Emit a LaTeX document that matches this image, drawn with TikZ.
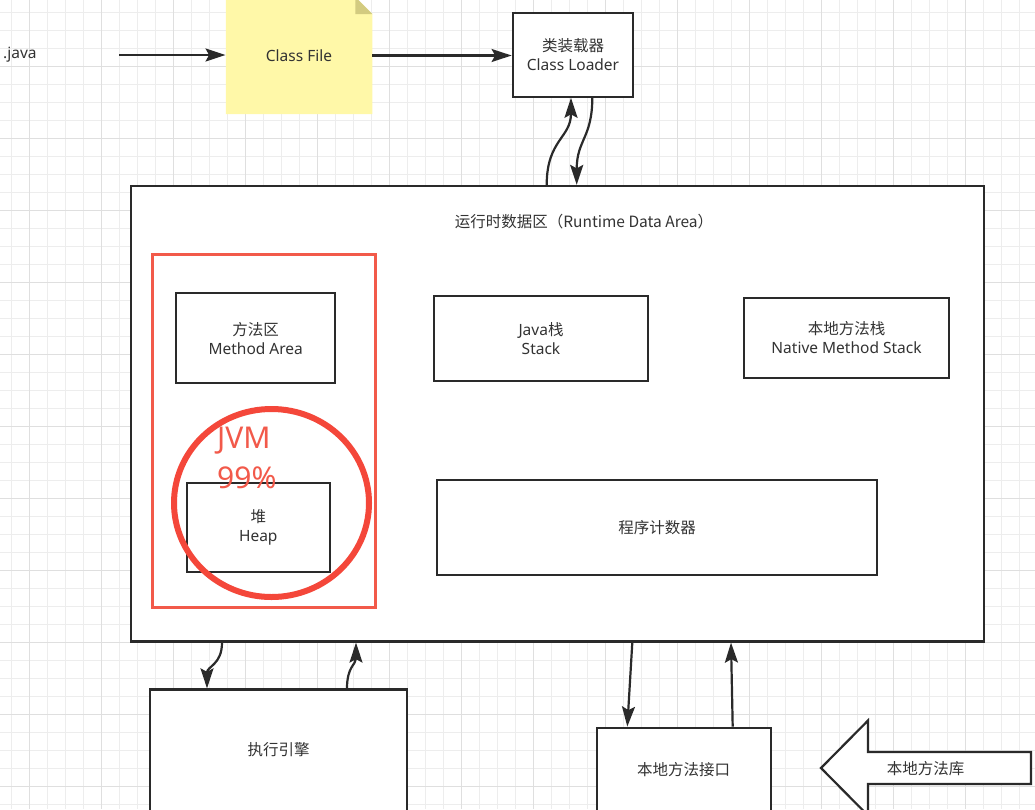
\documentclass[tikz,border=0pt]{standalone}
\usepackage{fontspec}
\setmainfont{Noto Sans}
\newfontfamily\cjk{Noto Sans CJK SC}
\usetikzlibrary{arrows.meta,shapes.geometric}
\definecolor{gridminor}{HTML}{EDEDED}
\definecolor{gridmajor}{HTML}{DFDFDF}
\definecolor{ink}{HTML}{333333}
\definecolor{boxline}{HTML}{2A2A2A}
\definecolor{notey}{HTML}{FFF8A8}
\definecolor{notefold}{HTML}{D3CB80}
\definecolor{redline}{HTML}{F25A4A}
\definecolor{redring}{HTML}{F4473A}
\definecolor{redtext}{HTML}{F2594A}
\begin{document}
\begin{tikzpicture}[x=1pt,y=-1pt,
  every node/.style={text=ink, font=\fontsize{15.5}{19}\selectfont},
  box/.style={draw=boxline, line width=2.2pt, fill=white, inner sep=0pt, align=center},
  conn/.style={draw=boxline, line width=2.2pt, -{Stealth[length=20pt,width=13pt,inset=3.5pt]}},
  gmin/.style={draw=gridminor, line width=1pt},
  gmaj/.style={draw=gridmajor, line width=1pt},
  jvmtext/.style={anchor=base west, inner sep=0pt, text=redtext, font=\fontsize{30}{32}\selectfont},
]
\useasboundingbox (0,0) rectangle (1035,809);
\clip (0,0) rectangle (1035,809);
\fill[white] (0,0) rectangle (1035,809);
% grid
\foreach \i in {0,...,57} \draw[gmin] (11.7+18*\i,0) -- (11.7+18*\i,809);
\foreach \j in {0,...,44} \draw[gmin] (0,12+18*\j) -- (1035,12+18*\j);
\foreach \i in {0,...,14} \draw[gmaj] (29.7+72*\i,0) -- (29.7+72*\i,809);
\foreach \j in {0,...,11} \draw[gmaj] (0,66+72*\j) -- (1035,66+72*\j);

% runtime data area
\node[box, minimum width=853pt, minimum height=455.5pt] (rda) at (557.5,413.75) {};
\node (rdat) at (584,222) {\cjk{运行时数据区（}Runtime Data Area\cjk{）}};

\node[box, minimum width=214.6pt, minimum height=85pt] (jstack) at (541,338.5) {Java\cjk{栈}\\Stack};
\node[box, minimum width=205pt, minimum height=80pt] (nstack) at (846.5,337.7) {\cjk{本地方法栈}\\Native Method Stack};
\node[box, minimum width=439.4pt, minimum height=94.7pt] (pc) at (657,527.3) {\cjk{程序计数器}};

% shared region
\node[draw=redline, line width=2.5pt, minimum width=223pt, minimum height=353.4pt, inner sep=0pt] (region) at (264.2,431) {};
\node[box, minimum width=158.7pt, minimum height=90pt] (marea) at (255.7,338.3) {\cjk{方法区}\\Method Area};
\node[box, minimum width=143.3pt, minimum height=89pt] (heap) at (258.3,527.2) {\cjk{堆}\\Heap};
\node[draw=redring, line width=6pt, ellipse, minimum width=195pt, minimum height=188pt, inner sep=0pt] (ring) at (271.5,503) {};
\node[jvmtext] (jvm) at (217,448) {JVM};
\node[jvmtext] (pct) at (217,488) {99\%};

% top row
\node[anchor=west, text width=113pt, inner sep=3pt, align=left] (java) at (0,55) {.java};
\node[minimum width=146.5pt, minimum height=117pt, inner sep=0pt,
  path picture={
    \fill[notey] (path picture bounding box.north west)
      -- ([xshift=-17pt]path picture bounding box.north east)
      -- ([yshift=-17pt]path picture bounding box.north east)
      -- (path picture bounding box.south east)
      -- (path picture bounding box.south west) -- cycle;
    \fill[notefold] ([xshift=-17pt]path picture bounding box.north east)
      -- ([xshift=-17pt,yshift=-17pt]path picture bounding box.north east)
      -- ([yshift=-17pt]path picture bounding box.north east) -- cycle;
  }] (cf) at (299,55.5) {Class File};
\node[box, minimum width=120.6pt, minimum height=84pt] (cl) at (573,54.7) {\cjk{类装载器}\\Class Loader};

\draw[conn] (java.east) -- (java.east -| cf.west);
\draw[conn] (cf.east) -- (cf.east -| cl.west);
\draw[conn] ([xshift=-10.8pt]rda.north) .. controls +(0,-45) and +(0,40) .. ([xshift=-2pt]cl.south);
\draw[conn] ([xshift=19.3pt]cl.south) .. controls +(0,40) and +(0,-45) .. ([xshift=19.2pt]rda.north);

% bottom row
\node[box, minimum width=257pt, minimum height=122.5pt] (ex) at (278.5,750.7) {};
\node (extext) at (278.5,750) {\cjk{执行引擎}};
\node[box, minimum width=173.7pt, minimum height=84.3pt] (nif) at (683.8,769.8) {};
\node (niftext) at (683.5,770) {\cjk{本地方法接口}};

\draw[conn] ([xshift=-335.5pt]rda.south) .. controls +(0,22) and +(0,-22) .. ([xshift=-71.5pt]ex.north);
\draw[conn] ([xshift=68.5pt]ex.north) .. controls +(0,-22) and +(0,22) .. ([xshift=-201.5pt]rda.south);
\draw[conn] ([xshift=74.8pt]rda.south) -- ([xshift=-56.5pt]nif.north);
\draw[conn] ([xshift=48.9pt]nif.north) -- ([xshift=173.5pt]rda.south);

% native library block arrow
\filldraw[fill=white, draw=boxline, line width=2.2pt] (1031,752) -- (868,752) -- (868,720.5) -- (821,768) -- (868,815.5) -- (868,784) -- (1031,784) -- cycle;
\node (lib) at (925.5,768.3) {\cjk{本地方法库}};
\end{tikzpicture}
\end{document}
